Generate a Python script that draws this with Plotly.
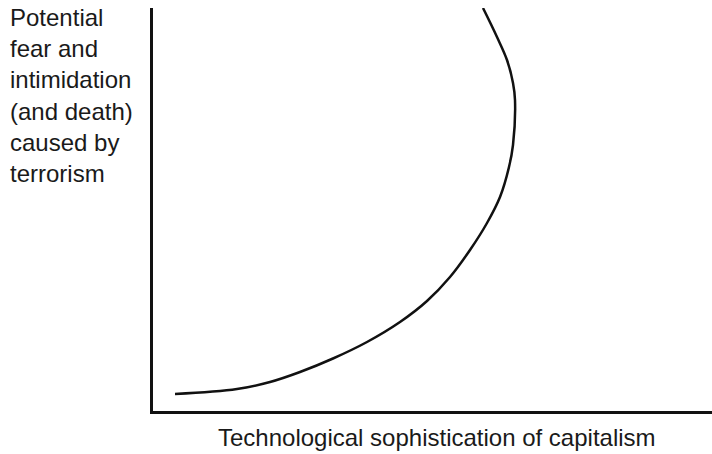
import plotly.graph_objects as go

# Curve values (arbitrary units: technological sophistication vs potential fear)
sophistication = [22, 84, 117, 147, 180, 214, 247, 274, 297, 317, 334, 347, 356, 360, 362, 360, 354, 344, 330]
fear = [17, 22, 29, 39, 52.5, 69, 89, 110, 134, 161, 188, 214, 244, 266, 311, 328, 351, 374, 403]

x_title = "Technological sophistication of capitalism"
y_title = "Potential<br>fear and<br>intimidation<br>(and death)<br>caused by<br>terrorism"

W, H = 712, 454
L, R, T, B = 153, 0, 8, 43
pw, ph = W - L - R, H - T - B

fig = go.Figure()
fig.add_trace(go.Scatter(
    x=sophistication, y=fear, mode="lines",
    line=dict(color="#111111", width=2.5, shape="spline", smoothing=1.0),
    hoverinfo="skip", showlegend=False,
))

font = dict(family="Liberation Sans, Arial, sans-serif", size=24, color="#1a1a1a")

fig.update_layout(
    width=W, height=H,
    margin=dict(l=L, r=R, t=T, b=B, pad=0),
    paper_bgcolor="white", plot_bgcolor="white",
    xaxis=dict(range=[0, pw], showgrid=False, zeroline=False, showticklabels=False,
               ticks="", showline=True, linecolor="#111111", linewidth=2.5, fixedrange=True),
    yaxis=dict(range=[0, ph], showgrid=False, zeroline=False, showticklabels=False,
               ticks="", showline=True, linecolor="#111111", linewidth=2.5, fixedrange=True),
    annotations=[
        dict(text=y_title, xref="paper", yref="paper",
             x=(8 - L) / pw, y=((H - B) - 2) / ph,
             xanchor="left", yanchor="top", align="left", showarrow=False,
             font=font),
        dict(text=x_title, xref="paper", yref="paper",
             x=(436.5 - L) / pw, y=-(437 - (H - B)) / ph,
             xanchor="center", yanchor="middle", showarrow=False, font=font),
    ],
)

fig.write_html(
    "out.html",
    config={"displayModeBar": False},
    post_script="document.body.style.margin='0';document.body.style.overflow='hidden';",
)
